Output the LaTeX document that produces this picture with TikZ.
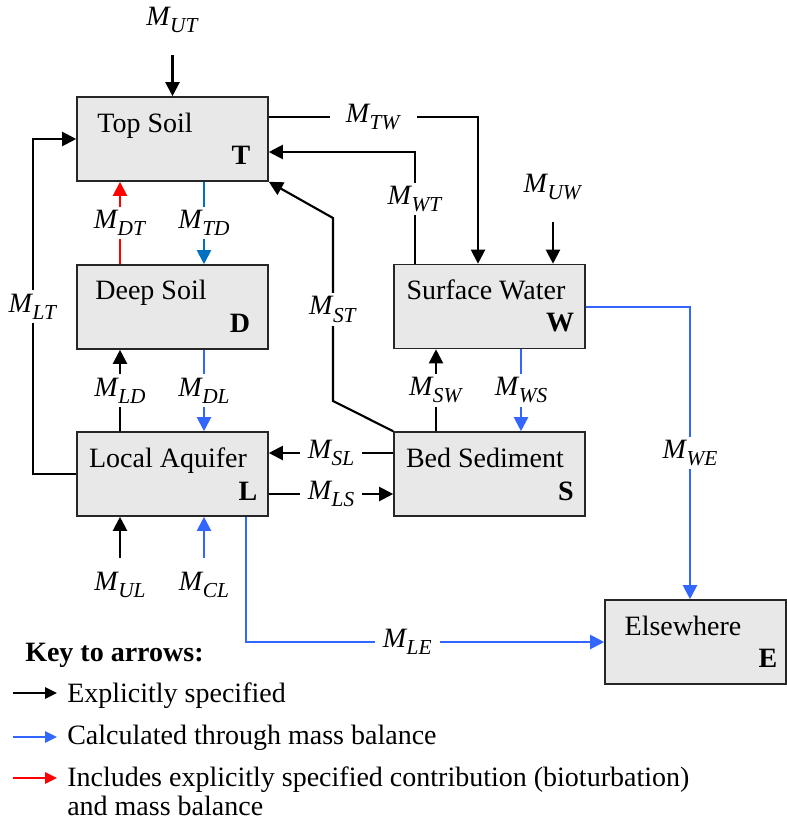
\documentclass[tikz,border=0pt]{standalone}
\usepackage{fontspec}
\setmainfont{Liberation Serif}
\usetikzlibrary{arrows.meta}
\definecolor{boxfill}{HTML}{E8E8E8}
\definecolor{bblue}{HTML}{3366FF}
\definecolor{dblue}{HTML}{0070C0}
\definecolor{kred}{HTML}{FF0000}
\newcommand{\flux}[1]{\textit{M}\kern-0.5pt\raisebox{-0.26em}{\fontsize{16}{16}\selectfont\textit{#1}}}
\tikzset{
  cbox/.style={draw=black!85, fill=boxfill, line width=1.2pt, inner sep=0pt,
    minimum width=143.25pt, minimum height=63pt},
  txt/.style={font=\fontsize{21}{25}\selectfont, inner sep=0pt, anchor=base},
  arr/.style={-{Triangle[length=10.5pt,width=10.5pt]}, line width=1.6pt, draw=black},
  barr/.style={arr, draw=bblue, -{Triangle[length=10.5pt,width=10.5pt,fill=bblue]}},
  darr/.style={arr, draw=dblue, -{Triangle[length=10.5pt,width=10.5pt,fill=dblue]}},
  rarr/.style={arr, draw=kred, -{Triangle[length=10.5pt,width=10.5pt,fill=kred]}},
  karr/.style={-{Triangle[length=9pt,width=8.5pt]}, line width=1.6pt},
  lab/.style={fill=white, text=black, inner xsep=6pt, inner ysep=2.5pt,
    font=\fontsize{21}{25}\selectfont},
}
\begin{document}
\begin{tikzpicture}[x=0.75pt, y=-0.75pt]
\useasboundingbox (0,0) rectangle (787,825);

% boxes
\node[cbox] (T) at (172.5,139) {};
\node[cbox] (D) at (172.5,307) {};
\node[cbox] (L) at (172.5,474) {};
\node[cbox] (W) at (489.5,306.5) {};
\node[cbox] (S) at (489.5,474) {};
\node[cbox, minimum width=135.75pt] (E) at (695.5,642) {};

\node[txt] (Tt) at (145,132) {Top Soil};
\node[txt] (Tl) at (241,164) {\textbf{T}};
\node[txt] (Dt) at (151,299) {Deep Soil};
\node[txt] (Dl) at (240,332) {\textbf{D}};
\node[txt] (Lt) at (168,467) {Local Aquifer};
\node[txt] (Ll) at (248,500) {\textbf{L}};
\node[txt] (Wt) at (486,299) {Surface Water};
\node[txt] (Wl) at (560,331) {\textbf{W}};
\node[txt] (St) at (485,467) {Bed Sediment};
\node[txt] (Sl) at (566,500) {\textbf{S}};
\node[txt] (Et) at (683,635) {Elsewhere};
\node[txt] (El) at (768,667) {\textbf{E}};

% coordinates
\coordinate (ut) at (172.5,55);
\coordinate (tw) at (478,117);
\coordinate (wt) at (415,152);
\coordinate (uw) at (553,222);
\coordinate (st1) at (333,401);
\coordinate (st2) at (333,218);
\coordinate (x120) at (120,0);
\coordinate (x204) at (204,0);
\coordinate (lt) at (33,0);
\coordinate (sl) at (331,453);
\coordinate (ls) at (331,494);
\coordinate (sw) at (436,0);
\coordinate (ws) at (521,0);
\coordinate (we) at (690,307);
\coordinate (ul) at (120,558);
\coordinate (cl) at (204,558);
\coordinate (le) at (246,642);

% inputs
\node[lab] (lUT) at (172.5,20) {\flux{UT}};
\draw[arr] (ut) -- (T.north);
\node[lab] (lUW) at (553,187) {\flux{UW}};
\draw[arr] (uw) -- (W.north -| uw);
\node[lab] (lUL) at (120,585) {\flux{UL}};
\draw[arr] (ul) -- (L.south -| ul);
\node[lab] (lCL) at (204,585) {\flux{CL}};
\draw[barr] (cl) -- (L.south -| cl);

% T <-> W
\draw[arr] (T.east |- tw) -- node[lab, inner xsep=12pt] {\flux{TW}} (tw) -- (W.north -| tw);
\draw[arr] (W.north -| wt) -- node[lab, pos=0.58] {\flux{WT}} (wt) -- (T.east |- wt);

% S -> T
\draw[arr] (S.north west) -- (st1) -- node[lab] {\flux{ST}} (st2) -- (T.south east);

% T <-> D
\draw[rarr] (D.north -| x120) -- node[lab] {\flux{DT}} (T.south -| x120);
\draw[darr] (T.south -| x204) -- node[lab] {\flux{TD}} (D.north -| x204);

% D <-> L
\draw[arr] (L.north -| x120) -- node[lab] {\flux{LD}} (D.south -| x120);
\draw[barr] (D.south -| x204) -- node[lab] {\flux{DL}} (L.north -| x204);

% L -> T
\draw[arr] (L.west) -- (L.west -| lt) -- node[lab] {\flux{LT}} (T.west -| lt) -- (T.west);

% S <-> L
\draw[arr] (S.west |- sl) -- node[lab] {\flux{SL}} (L.east |- sl);
\draw[arr] (L.east |- ls) -- node[lab] {\flux{LS}} (S.west |- ls);

% S <-> W
\draw[arr] (S.north -| sw) -- node[lab] {\flux{SW}} (W.south -| sw);
\draw[barr] (W.south -| ws) -- node[lab] {\flux{WS}} (S.north -| ws);

% W -> E
\draw[barr] (W.east |- we) -- (we) -- node[lab] {\flux{WE}} (E.north -| we);

% L -> E
\draw[barr] (L.south -| le) -- (le) -- node[lab, pos=0.45] {\flux{LE}} (E.west |- le);

% legend
\node[txt, anchor=base west] (key) at (25,661) {\textbf{Key to arrows:}};
\coordinate (k1a) at (13,693); \coordinate (k1b) at (57,693);
\coordinate (k2a) at (13,737); \coordinate (k2b) at (57,737);
\coordinate (k3a) at (13,778); \coordinate (k3b) at (57,778);
\draw[karr] (k1a) -- (k1b);
\draw[karr, draw=bblue, -{Triangle[length=9pt,width=8.5pt,fill=bblue]}] (k2a) -- (k2b);
\draw[karr, draw=kred, -{Triangle[length=9pt,width=8.5pt,fill=kred]}] (k3a) -- (k3b);
\node[txt, anchor=base west] (k1) at (67,702) {Explicitly specified};
\node[txt, anchor=base west] (k2) at (67,744) {Calculated through mass balance};
\node[txt, anchor=base west] (k3) at (67,786) {Includes explicitly specified contribution (bioturbation)};
\node[txt, anchor=base west] (k4) at (67,815) {and mass balance};
\end{tikzpicture}
\end{document}
